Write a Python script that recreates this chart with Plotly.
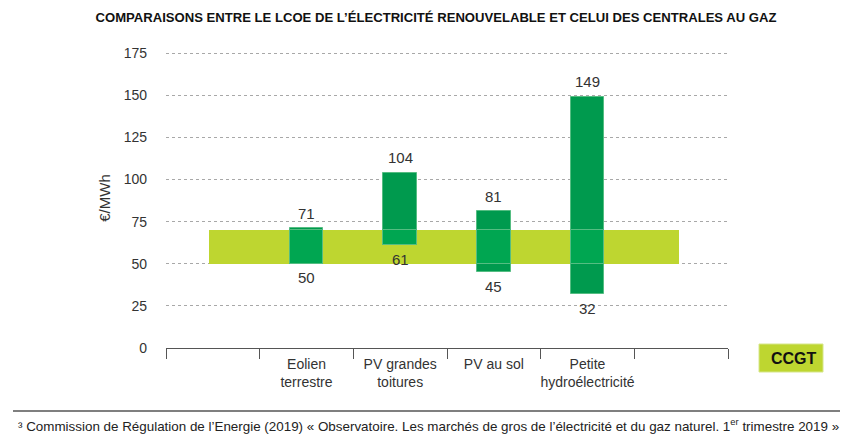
import plotly.graph_objects as go

# --- data -------------------------------------------------------------
categories = ["Eolien<br>terrestre", "PV grandes<br>toitures", "PV au sol", "Petite<br>hydroélectricité"]
lcoe_low = [50, 61, 45, 32]      # €/MWh, bas de fourchette
lcoe_high = [71, 104, 81, 149]   # €/MWh, haut de fourchette
ccgt_low = 50                    # fourchette CCGT
ccgt_high = 70
y_ticks = [0, 25, 50, 75, 100, 125, 150, 175]

title_text = "COMPARAISONS ENTRE LE LCOE DE L’ÉLECTRICITÉ RENOUVELABLE ET CELUI DES CENTRALES AU GAZ"
source_text = ("³ Commission de Régulation de l’Energie (2019) « Observatoire. Les marchés de gros "
               "de l’électricité et du gaz naturel. 1<sup>er</sup> trimestre 2019 »")

# --- layout constants ---------------------------------------------------
W, H = 844, 438
ML, MR, MT, MB = 166, 116, 48, 90
PW, PH = W - ML - MR, H - MT - MB

DARK_GREEN = "#009A4E"
LIGHT_GREEN = "#00A651"
EDGE_GREEN = "#55BD82"
LIME = "#BED630"
TEXT = "#333333"
SANS = "Liberation Sans, Arial, sans-serif"


def px_x(px):
    return (px - ML) / PW


def px_y(py):
    return (H - MB - py) / PH


# blank slots on each side of the four technologies
x_cats = [" "] + categories + ["  "]

fig = go.Figure()

# CCGT band spanning the whole category range
fig.add_trace(go.Bar(
    x=[x_cats[0]], base=[ccgt_low], y=[ccgt_high - ccgt_low],
    width=[5.02], offset=-0.04,
    marker=dict(color=LIME, line=dict(width=0)),
    hoverinfo="skip", showlegend=False,
))

# renewable LCOE ranges
fig.add_trace(go.Bar(
    x=categories, base=lcoe_low, y=[h - l for h, l in zip(lcoe_high, lcoe_low)],
    width=0.36,
    marker=dict(color=DARK_GREEN, line=dict(color=EDGE_GREEN, width=1)),
    showlegend=False,
))

# part of each range that lies inside the CCGT band
ov_low = [max(l, ccgt_low) for l in lcoe_low]
ov_high = [min(h, ccgt_high) for h in lcoe_high]
fig.add_trace(go.Bar(
    x=categories, base=ov_low, y=[max(h - l, 0) for h, l in zip(ov_high, ov_low)],
    width=0.36,
    marker=dict(color=LIGHT_GREEN, line=dict(color=EDGE_GREEN, width=1)),
    hoverinfo="skip", showlegend=False,
))

# value labels above and below each range
for cat, lo, hi in zip(categories, lcoe_low, lcoe_high):
    fig.add_annotation(x=cat, y=hi, text=str(hi), showarrow=False,
                       yanchor="middle", yshift=15,
                       font=dict(family=SANS, size=15, color=TEXT))
    fig.add_annotation(x=cat, y=lo, text=str(lo), showarrow=False,
                       yanchor="middle", yshift=-14,
                       font=dict(family=SANS, size=15, color=TEXT))

# CCGT key
fig.add_shape(type="rect", xref="paper", yref="paper",
              x0=px_x(759), x1=px_x(823), y0=px_y(372), y1=px_y(344),
              fillcolor=LIME, line=dict(color="#D6E68A", width=1))
fig.add_annotation(xref="paper", yref="paper", x=px_x(794), y=px_y(358),
                   text="<b>CCGT</b>", showarrow=False,
                   xanchor="center", yanchor="middle",
                   font=dict(family=SANS, size=16, color="#111111"))

# source rule and footnote
fig.add_shape(type="line", xref="paper", yref="paper",
              x0=px_x(13), x1=px_x(840), y0=px_y(411), y1=px_y(411),
              line=dict(color="#555555", width=1.5))
fig.add_annotation(xref="paper", yref="paper", x=px_x(16), y=px_y(425),
                   text=source_text, showarrow=False,
                   xanchor="left", yanchor="middle",
                   font=dict(family=SANS, size=13.4, color="#222222"))

fig.update_layout(
    width=W, height=H,
    margin=dict(l=ML, r=MR, t=MT, b=MB),
    paper_bgcolor="white", plot_bgcolor="white",
    barmode="overlay", bargap=0,
    title=dict(text=title_text, xref="container", yref="container",
               x=436 / W, y=1 - 17 / H, xanchor="center", yanchor="middle",
               font=dict(family=SANS, size=13.1, color="#111111", weight="bold")),
    xaxis=dict(
        type="category", categoryorder="array", categoryarray=x_cats,
        range=[-0.5, 5.5], tickson="boundaries", tickangle=0,
        ticks="outside", ticklen=10, tickcolor="#555555", tickwidth=1.3,
        showline=True, linecolor="#555555", linewidth=1.3,
        showgrid=False, fixedrange=True, ticklabelstandoff=3,
        tickfont=dict(family=SANS, size=14, color=TEXT),
    ),
    yaxis=dict(
        range=[0, 178], tickvals=y_ticks,
        showgrid=True, gridcolor="#A8A8A8", griddash="dot", gridwidth=1,
        zeroline=False, showline=False,
        ticklabelstandoff=18,
        tickfont=dict(family=SANS, size=14, color=TEXT),
        title=dict(text="€/MWh", standoff=9,
                   font=dict(family=SANS, size=15, color=TEXT)),
    ),
)

fig.write_html("out.html")
